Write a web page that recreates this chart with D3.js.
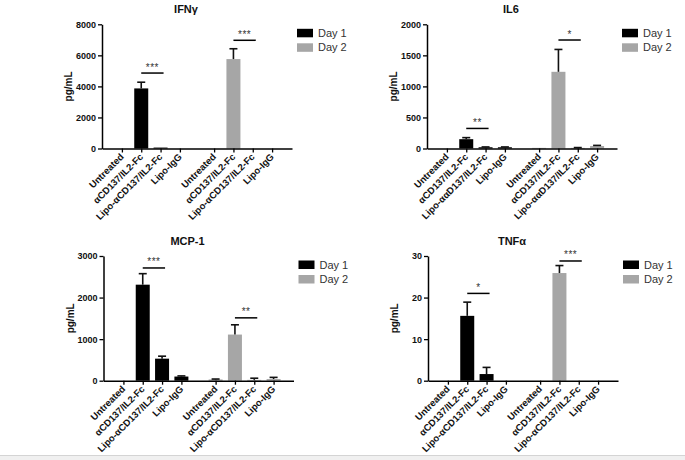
<!DOCTYPE html>
<html><head><meta charset="utf-8">
<script src="https://cdn.jsdelivr.net/npm/d3@7"></script>
<style>
html,body{margin:0;padding:0;background:#fff;}
svg{display:block;font-family:"Liberation Sans",Arial,sans-serif;}
</style></head>
<body><svg id="c" width="685" height="460"></svg>
<script>
// ---- data ----
const categories = ["Untreated", "αCD137/IL2-Fc", "Lipo-αCD137/IL2-Fc", "Lipo-IgG"];
const categoriesIL6 = ["Untreated", "αCD137/IL2-Fc", "Lipo-ααD137/IL2-Fc", "Lipo-IgG"];
const seriesNames = ["Day 1", "Day 2"];

const titles = ["IFNγ", "IL6", "MCP-1", "TNFα"];
const yMax = [8000, 2000, 3000, 30];
const yTicks = [
  [0, 2000, 4000, 6000, 8000],
  [0, 500, 1000, 1500, 2000],
  [0, 1000, 2000, 3000],
  [0, 10, 20, 30]
];

const ifngDay1 = [0, 3870, 60, 0];
const ifngDay1Err = [0, 400, 0, 0];
const ifngDay2 = [0, 5760, 0, 0];
const ifngDay2Err = [0, 665, 0, 0];

const il6Day1 = [0, 150, 20, 20];
const il6Day1Err = [0, 25, 5, 5];
const il6Day2 = [10, 1235, 10, 40];
const il6Day2Err = [0, 360, 5, 10];

const mcpDay1 = [0, 2310, 530, 100];
const mcpDay1Err = [0, 265, 60, 15];
const mcpDay2 = [30, 1110, 20, 40];
const mcpDay2Err = [10, 235, 40, 40];

const tnfDay1 = [0, 15.6, 1.6, 0];
const tnfDay1Err = [0, 3.3, 1.6, 0];
const tnfDay2 = [0, 25.9, 0, 0];
const tnfDay2Err = [0, 1.8, 0, 0];

// significance: [group, from index, to index, level (data units), label]
const sigIFNg = [[0, 1, 2, 4860, "***"], [1, 1, 2, 6970, "***"]];
const sigIL6 = [[0, 1, 2, 323, "**"], [1, 1, 2, 1747, "*"]];
const sigMCP = [[0, 1, 2, 2712, "***"], [1, 1, 2, 1512, "**"]];
const sigTNF = [[0, 1, 2, 21.0, "*"], [1, 1, 2, 28.8, "***"]];

const panelsData = [
  {cats: categories, d1: ifngDay1, e1: ifngDay1Err, d2: ifngDay2, e2: ifngDay2Err, sig: sigIFNg},
  {cats: categoriesIL6, d1: il6Day1, e1: il6Day1Err, d2: il6Day2, e2: il6Day2Err, sig: sigIL6},
  {cats: categories, d1: mcpDay1, e1: mcpDay1Err, d2: mcpDay2, e2: mcpDay2Err, sig: sigMCP},
  {cats: categories, d1: tnfDay1, e1: tnfDay1Err, d2: tnfDay2, e2: tnfDay2Err, sig: sigTNF}
];

// ---- layout ----
const layout = [
  {x0: 102, yTop: 24.3, y0: 148.5},
  {x0: 427, yTop: 24.3, y0: 148.5},
  {x0: 103.5, yTop: 256, y0: 380.7},
  {x0: 428, yTop: 256, y0: 380.7}
];
const colors = ["#000000", "#a6a6a6"];
const groupGap = 4.77;
const axisLen = 190;
const barW = 14;

const svg = d3.select("#c");

// bottom gray strip
svg.append("rect").attr("x", 0).attr("y", 455.5).attr("width", 685).attr("height", 5).attr("fill", "#f0f0f0");
svg.append("line").attr("x1", 0).attr("x2", 685).attr("y1", 455.5).attr("y2", 455.5).attr("stroke", "#d4d4d4").attr("stroke-width", 1);

panelsData.forEach((p, pi) => {
  const L = layout[pi];
  const g = svg.append("g");
  const y = d3.scaleLinear().domain([0, yMax[pi]]).range([L.y0, L.yTop]);
  const x = d3.scaleLinear().domain([-1.03, 8.8]).range([L.x0, L.x0 + axisLen]);
  const slot = (grp, i) => i + grp * groupGap;

  // bars
  const series = [[p.d1, p.e1], [p.d2, p.e2]];
  series.forEach(([vals, errs], si) => {
    vals.forEach((v, i) => {
      const cx = x(slot(si, i));
      if (v > 0) {
        g.append("rect").attr("x", cx - barW / 2).attr("width", barW)
          .attr("y", y(v)).attr("height", Math.max(0.8, L.y0 - y(v)))
          .attr("fill", colors[si]);
      }
      if (errs[i] > 0) {
        const ye = y(v + errs[i]);
        g.append("line").attr("x1", cx).attr("x2", cx).attr("y1", y(v)).attr("y2", ye)
          .attr("stroke", "#111").attr("stroke-width", 1.6);
        g.append("line").attr("x1", cx - 4).attr("x2", cx + 4).attr("y1", ye).attr("y2", ye)
          .attr("stroke", "#111").attr("stroke-width", 1.6);
      }
    });
  });

  // y axis
  const ya = g.append("g").attr("transform", `translate(${L.x0},0)`)
    .call(d3.axisLeft(y).tickValues(yTicks[pi]).tickSize(4).tickSizeOuter(0).tickPadding(2).tickFormat(d3.format("d")));
  ya.select(".domain").attr("stroke", "#000").attr("stroke-width", 1.5);
  ya.selectAll(".tick line").attr("stroke", "#000").attr("stroke-width", 1.3);
  ya.selectAll(".tick text").attr("font-size", 9).attr("font-weight", "bold").attr("fill", "#111")
    .attr("font-family", "'Liberation Sans',Arial,sans-serif");

  // x axis
  const tickSlots = [];
  const tickLabels = {};
  [0, 1].forEach(grp => p.cats.forEach((c, i) => { const s = slot(grp, i); tickSlots.push(s); tickLabels[s] = c; }));
  const xa = g.append("g").attr("transform", `translate(0,${L.y0})`)
    .call(d3.axisBottom(x).tickValues(tickSlots).tickSize(4).tickSizeOuter(0).tickFormat(s => tickLabels[s]));
  xa.select(".domain").attr("stroke", "#000").attr("stroke-width", 1.5);
  xa.selectAll(".tick line").attr("stroke", "#000").attr("stroke-width", 1.3);
  xa.selectAll(".tick text").attr("font-size", 9.5).attr("font-weight", "bold").attr("fill", "#111")
    .attr("font-family", "'Liberation Sans',Arial,sans-serif")
    .attr("text-anchor", "end").attr("y", 0).attr("dy", 0)
    .attr("transform", "translate(2,9) rotate(-45)");

  // y label
  g.append("text").attr("transform", `translate(${L.x0 - 30},${(L.y0 + L.yTop) / 2}) rotate(-90)`)
    .attr("text-anchor", "middle").attr("font-size", 10).attr("font-weight", "bold").attr("fill", "#111")
    .text("pg/mL");

  // title
  g.append("text").attr("x", L.x0 + 84).attr("y", L.yTop - 11).attr("text-anchor", "middle")
    .attr("font-size", 11).attr("font-weight", "bold").attr("fill", "#111").text(titles[pi]);

  // significance
  p.sig.forEach(([grp, a, b, lvl, lab]) => {
    const x1 = x(slot(grp, a)), x2 = x(slot(grp, b)) + 3, yy = y(lvl);
    g.append("line").attr("x1", x1).attr("x2", x2).attr("y1", yy).attr("y2", yy)
      .attr("stroke", "#000").attr("stroke-width", 1.5);
    g.append("text").attr("x", (x1 + x2) / 2).attr("y", yy - 2.5).attr("text-anchor", "middle")
      .attr("font-size", 10).attr("letter-spacing", 0.5).attr("fill", "#333").text(lab);
  });

  // legend
  seriesNames.forEach((n, si) => {
    const ly = L.yTop + 4.5 + si * 14.5;
    g.append("rect").attr("x", L.x0 + 195).attr("y", ly).attr("width", 16).attr("height", 8.5).attr("fill", colors[si]);
    g.append("text").attr("x", L.x0 + 216).attr("y", ly + 8).attr("font-size", 11).attr("fill", "#333").text(n);
  });
});
</script></body></html>
